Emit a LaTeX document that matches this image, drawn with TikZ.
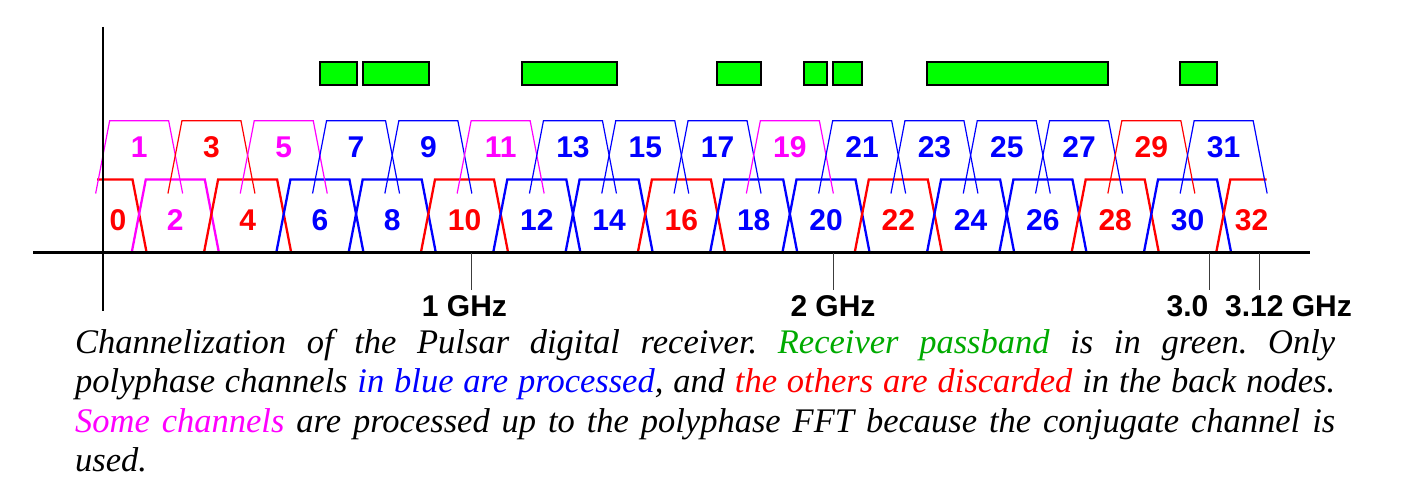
\documentclass[tikz,border=0pt]{standalone}
\usepackage{fontspec}
\setmainfont{Liberation Serif}
\newfontfamily\labfont{Liberation Sans}
\definecolor{chred}{RGB}{255,0,0}
\definecolor{chblue}{RGB}{0,0,255}
\definecolor{chmag}{RGB}{255,0,255}
\definecolor{passgreen}{RGB}{0,255,0}
\definecolor{capgreen}{RGB}{0,170,0}
\definecolor{tickgray}{RGB}{60,60,60}
\frenchspacing
\begin{document}
\begin{tikzpicture}[x=1pt,y=-1pt,
  evench/.style={line width=2.3pt},
  oddch/.style={line width=1.2pt},
  chlabel/.style={font=\labfont\bfseries\fontsize{30}{30}\selectfont, anchor=base, inner sep=0pt},
  ticklab/.style={font=\labfont\bfseries\fontsize{30}{30}\selectfont, anchor=base, inner sep=0pt},
  passbox/.style={draw=black, fill=passgreen, line width=2pt},
  tickline/.style={draw=tickgray, line width=1.3pt},
  axisline/.style={draw=black, line width=2.2pt},
  capline/.style={font=\itshape\fontsize{34.5}{39.5}\selectfont, anchor=base west, inner sep=0pt}
]
\useasboundingbox (0,0) rectangle (1415,484);
% passband boxes
\draw[passbox] (320,62.5) rectangle (357,85);
\draw[passbox] (363,62.5) rectangle (429,85);
\draw[passbox] (522,62.5) rectangle (617,85);
\draw[passbox] (717,62.5) rectangle (761,85);
\draw[passbox] (804,62.5) rectangle (827,85);
\draw[passbox] (833,62.5) rectangle (862,85);
\draw[passbox] (927,62.5) rectangle (1108,85);
\draw[passbox] (1180,62.5) rectangle (1217,85);
% even channels
\draw[evench,chred] (97,179.5) -- (132.5,179.5) -- (146.5,252);
\node[chlabel,text=chred] (c0) at (118,230) {0};
\foreach \n/\col in {2/chmag,4/chred,6/chblue,8/chblue,10/chred,12/chblue,14/chblue,16/chred,18/chblue,20/chblue,22/chred,24/chblue,26/chblue,28/chred,30/chblue}{
  \pgfmathsetmacro\cx{103+36.15*\n}
  \draw[evench,\col] (\cx-43.5,252) -- (\cx-29.5,179.5) -- (\cx+29.5,179.5) -- (\cx+43.5,252);
  \node[chlabel,text=\col] (c\n) at (\cx,230) {\n};
}
\draw[evench,chred] (1216.3,252) -- (1230.3,179.5) -- (1266.5,179.5);
\node[chlabel,text=chred] (c32) at (1251.5,230) {32};
% odd channels
\foreach \n/\col in {1/chmag,3/chred,5/chmag,7/chblue,9/chblue,11/chmag,13/chblue,15/chblue,17/chblue,19/chmag,21/chblue,23/chblue,25/chblue,27/chblue,29/chred,31/chblue}{
  \pgfmathsetmacro\cx{103+36.15*\n}
  \draw[oddch,\col] (\cx-43.5,193.5) -- (\cx-29.5,120.7) -- (\cx+29.5,120.7) -- (\cx+43.5,193.5);
  \node[chlabel,text=\col] (c\n) at (\cx,157.5) {\n};
}
% axes
\draw[axisline] (33,252.5) -- (1310,252.5);
\draw[axisline] (103,27) -- (103,311);
% ticks
\draw[tickline] (471.5,253) -- (471.5,290);
\draw[tickline] (833.3,253) -- (833.3,290);
\draw[tickline] (1209.5,253) -- (1209.5,290);
\draw[tickline] (1259.5,253) -- (1259.5,290);
\node[ticklab] (g1) at (464.5,316) {1 GHz};
\node[ticklab] (g2) at (833,316) {2 GHz};
\node[ticklab] (g3) at (1187.5,316) {3.0};
\node[ticklab] (g4) at (1288.5,316) {3.12 GHz};
% caption
\node[capline] (cap1) at (75,353) {\makebox[1260pt][s]{Channelization of the Pulsar digital receiver. \textcolor{capgreen}{Receiver passband} is in green. Only}};
\node[capline] (cap2) at (75,392.5) {\makebox[1260pt][s]{polyphase channels \textcolor{chblue}{in blue are processed}, and \textcolor{chred}{the others are discarded} in the back nodes.}};
\node[capline] (cap3) at (75,432.5) {\makebox[1260pt][s]{\textcolor{chmag}{Some channels} are processed up to the polyphase FFT because the conjugate channel is}};
\node[capline] (cap4) at (75,471.5) {used.};
\end{tikzpicture}
\end{document}
